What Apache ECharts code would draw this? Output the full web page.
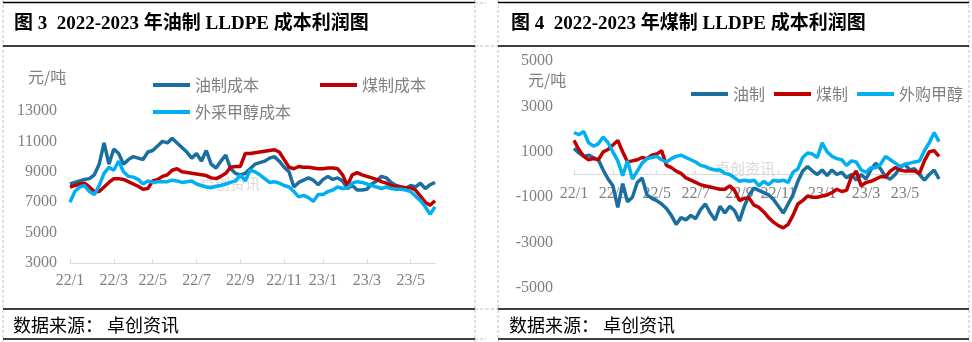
<!DOCTYPE html>
<html><head><meta charset="utf-8">
<script src="https://cdn.jsdelivr.net/npm/echarts@6/dist/echarts.min.js"></script>
<style>html,body{margin:0;padding:0;background:#fff}#c{width:972px;height:342px}</style>
</head><body><div id="c"></div>
<script>
const weeks = [
'2022-01-03','2022-01-10','2022-01-17','2022-01-24','2022-01-31','2022-02-07','2022-02-14','2022-02-21','2022-02-28','2022-03-07',
'2022-03-14','2022-03-21','2022-03-28','2022-04-04','2022-04-11','2022-04-18','2022-04-25','2022-05-02','2022-05-09','2022-05-16',
'2022-05-23','2022-05-30','2022-06-06','2022-06-13','2022-06-20','2022-06-27','2022-07-04','2022-07-11','2022-07-18','2022-07-25',
'2022-08-01','2022-08-08','2022-08-15','2022-08-22','2022-08-29','2022-09-05','2022-09-12','2022-09-19','2022-09-26','2022-10-03',
'2022-10-10','2022-10-17','2022-10-24','2022-10-31','2022-11-07','2022-11-14','2022-11-21','2022-11-28','2022-12-05','2022-12-12',
'2022-12-19','2022-12-26','2023-01-02','2023-01-09','2023-01-16','2023-01-23','2023-01-30','2023-02-06','2023-02-13','2023-02-20',
'2023-02-27','2023-03-06','2023-03-13','2023-03-20','2023-03-27','2023-04-03','2023-04-10','2023-04-17','2023-04-24','2023-05-01',
'2023-05-08','2023-05-15','2023-05-22','2023-05-29','2023-06-05','2023-06-12'];
const tickLabels = ['22/1','22/3','22/5','22/7','22/9','22/11','23/1','23/3','23/5'];
const leftTickIdx = [0,9,17,26,35,44,52,61,70];
const rightTickIdx = [0,8,17,25,34,42,51,60,68];

const oilCost = [8200,8300,8400,8500,8550,8800,9500,10900,9500,10500,
10200,9500,9800,10000,9900,9800,10300,10400,10700,11000,
10900,11200,10900,10600,10300,9900,10200,9700,10400,9500,
9250,9700,10100,9200,8900,8800,8900,9200,9500,9600,
9700,9900,10000,9700,9300,9000,8000,8300,8450,8600,
8450,8150,8500,8700,8500,8600,8400,7900,8100,7800,
7800,7850,8200,8400,8700,8600,8300,8100,8000,7900,
8100,8000,8250,7900,8150,8300];
const coalCost = [8000,8100,8200,8250,8000,7700,7700,8000,8300,8550,
8550,8500,8350,8200,8050,7850,7900,8400,8500,8700,
8800,9100,9200,9000,8950,8900,8850,8800,8750,8600,
8550,8700,8900,9300,9350,9350,10200,10200,10250,10300,
10350,10400,10450,10300,9800,9300,9200,9350,9300,9300,
9250,9200,9200,9250,9250,9200,8800,8100,8800,8950,
8800,8700,8600,8500,8350,8250,8100,8050,8000,7950,
7950,7800,7400,7000,6800,7100];
const methanolCost = [7000,7700,8000,8100,7700,7500,8100,8900,9300,9100,
9700,9000,8700,8650,8500,8200,8400,8300,8350,8350,
8350,8450,8400,8300,8350,8400,8200,8100,8000,7950,
8050,8100,8200,8300,8400,8800,8400,9100,9000,8800,
8550,8300,8350,8250,8100,8000,7700,7350,7450,7300,
7050,7500,7500,7700,7800,8000,7900,7950,8250,8350,
8300,8200,8100,8000,7900,8000,7900,7850,7850,7800,
7700,7400,7100,6700,6200,6700];

const oilProfit = [1150,950,800,850,750,650,200,-200,-500,-1450,
-400,-1200,-1000,-350,-150,-900,-1050,-1150,-1300,-1500,
-1800,-2200,-1900,-2000,-1800,-1950,-1550,-1300,-1700,-2000,
-1400,-1700,-1400,-1600,-2050,-1400,-900,-600,-700,-800,
-900,-1100,-1400,-1700,-1300,-900,-300,150,350,150,
0,200,-50,200,0,100,-150,0,-250,0,
-200,200,500,250,-100,-200,0,300,450,200,
250,0,-250,0,200,-200];
const coalProfit = [1500,1100,800,650,700,650,1000,1100,1300,1500,
1000,550,600,650,750,700,850,900,1050,400,
300,150,50,-150,-250,-350,-450,-500,-550,-600,
-650,-650,-500,-700,-1150,-1050,-1050,-1350,-1450,-1650,
-1900,-2100,-2250,-2350,-2200,-1800,-1300,-1150,-950,-1000,
-1000,-950,-900,-800,-650,-750,-700,-100,150,-500,
-350,-300,-200,-100,-100,150,300,200,150,150,
150,50,600,1000,1050,800];
const methanolProfit = [1850,1750,1900,1400,1250,1350,1650,1400,1000,600,
-50,600,-200,150,500,700,750,800,650,550,
700,800,850,750,650,550,400,350,250,200,
200,50,0,-150,-300,-250,-300,-250,-500,-300,
-450,-250,-300,-250,-350,100,250,750,950,900,
750,1400,1000,800,700,650,400,600,550,200,
100,300,300,450,800,650,500,350,450,500,
550,600,1050,1400,1850,1450];

const C_OIL = '#1B6FA0', C_COAL = '#C00000', C_METH = '#00B0F0';
const GRAY = '#808080';
const NUMFONT = '"Liberation Serif", "Noto Sans CJK SC"';
const CJK = '"Noto Sans CJK SC"';

function xAxisFor(gi, idxs, margin, offset) {
  return {
    type: 'category', gridIndex: gi, data: weeks, boundaryGap: false, position: 'bottom', offset: offset,
    axisLine: { onZero: false, lineStyle: { color: '#d9d9d9', width: 1 } },
    axisTick: { inside: true, length: 4, interval: (i) => idxs.includes(i), lineStyle: { color: '#d9d9d9' } },
    axisLabel: { interval: (i) => idxs.includes(i), formatter: (v, i) => tickLabels[idxs.indexOf(i)] || '',
      color: GRAY, fontSize: 16, fontFamily: NUMFONT, margin: margin },
    splitLine: { show: false }
  };
}
function yAxisFor(gi, min, max, margin) {
  return {
    type: 'value', gridIndex: gi, min: min, max: max, interval: 1000,
    axisLine: { show: false }, axisTick: { show: false }, splitLine: { show: false },
    axisLabel: { formatter: (v) => (Math.abs(Math.round(v / 1000)) % 2 === 1 ? String(v) : ''),
      color: GRAY, fontSize: 16, fontFamily: NUMFONT, margin: margin }
  };
}
function lineSeries(name, data, color, xi) {
  return { type: 'line', name: name, data: data, xAxisIndex: xi, yAxisIndex: xi,
    showSymbol: false, symbol: 'none', lineStyle: { color: color, width: 3.5 }, itemStyle: { color: color },
    emphasis: { disabled: true }, animation: false };
}
const legendBase = { icon: 'rect', itemWidth: 37, itemHeight: 4, selectedMode: false,
  textStyle: { color: GRAY, fontSize: 16, fontFamily: CJK } };

function hline(x1, x2, y, w) { return { type: 'line', shape: { x1: x1, y1: y, x2: x2, y2: y }, style: { stroke: '#000', lineWidth: w } }; }
function dline(x1, y1, x2, y2) { return { type: 'line', shape: { x1: x1, y1: y1, x2: x2, y2: y2 }, style: { stroke: '#c0c0c0', lineWidth: 1, lineDash: [3, 2] } }; }
function txt(x, y, text, font, fill) {
  return { type: 'text', x: x, y: y, style: { text: text, font: font, fill: fill, textAlign: 'left', textVerticalAlign: 'middle', align: 'left', verticalAlign: 'middle' } };
}

const chart = echarts.init(document.getElementById('c'), null, { renderer: 'canvas' });
chart.setOption({
  animation: false,
  backgroundColor: '#ffffff',
  grid: [
    { left: 70, top: 111, width: 365, height: 152 },
    { left: 574, top: 61, width: 365, height: 227 }
  ],
  xAxis: [ xAxisFor(0, leftTickIdx, 10, 0), xAxisFor(1, rightTickIdx, 11, -113.5) ],
  yAxis: [ yAxisFor(0, 3000, 13000, 13), yAxisFor(1, -5000, 5000, 21) ],
  legend: [
    Object.assign({ data: ['油制成本'], left: 148, top: 72 }, legendBase),
    Object.assign({ data: ['煤制成本'], left: 315, top: 72 }, legendBase),
    Object.assign({ data: ['外采甲醇成本'], left: 148, top: 99 }, legendBase),
    Object.assign({ data: ['油制', '煤制', '外购甲醇'], left: 686, top: 81, itemGap: 9 }, legendBase)
  ],
  graphic: [
    dline(3, 0, 3, 342), dline(475, 0, 475, 342), dline(498, 0, 498, 342), dline(969, 0, 969, 342),
    dline(475, 3, 486, 3), dline(475, 46, 486, 46), dline(475, 309, 486, 309), dline(475, 339, 486, 339),
    dline(486, 46, 498, 46), dline(486, 309, 498, 309),
    hline(3, 475, 2.5, 1.5), hline(3, 475, 46, 1.5), hline(3, 475, 309, 1.5), hline(3, 475, 339, 1.5),
    hline(498, 969, 2.5, 1.5), hline(498, 969, 46, 1.5), hline(498, 969, 309, 1.5), hline(498, 969, 339, 1.5),
    txt(14, 24, '图 3  2022-2023 年油制 LLDPE 成本利润图', 'bold 19px "Liberation Serif", "Noto Sans CJK SC"', '#000'),
    txt(511, 24, '图 4  2022-2023 年煤制 LLDPE 成本利润图', 'bold 19px "Liberation Serif", "Noto Sans CJK SC"', '#000'),
    txt(13, 325, '数据来源： 卓创资讯', '18px "Noto Sans CJK SC"', '#000'),
    txt(509, 325, '数据来源： 卓创资讯', '18px "Noto Sans CJK SC"', '#000'),
    txt(28, 77, '元/吨', '16px "Noto Sans CJK SC"', GRAY),
    txt(528, 80, '元/吨', '16px "Noto Sans CJK SC"', GRAY),
    txt(200, 183, '卓创资讯', '15px "Noto Sans CJK SC"', 'rgba(190,190,190,0.6)'),
    txt(715, 168, '卓创资讯', '15px "Noto Sans CJK SC"', 'rgba(190,190,190,0.6)')
  ],
  series: [
    lineSeries('油制成本', oilCost, C_OIL, 0),
    lineSeries('煤制成本', coalCost, C_COAL, 0),
    lineSeries('外采甲醇成本', methanolCost, C_METH, 0),
    lineSeries('油制', oilProfit, C_OIL, 1),
    lineSeries('煤制', coalProfit, C_COAL, 1),
    lineSeries('外购甲醇', methanolProfit, C_METH, 1)
  ]
});
</script></body></html>
